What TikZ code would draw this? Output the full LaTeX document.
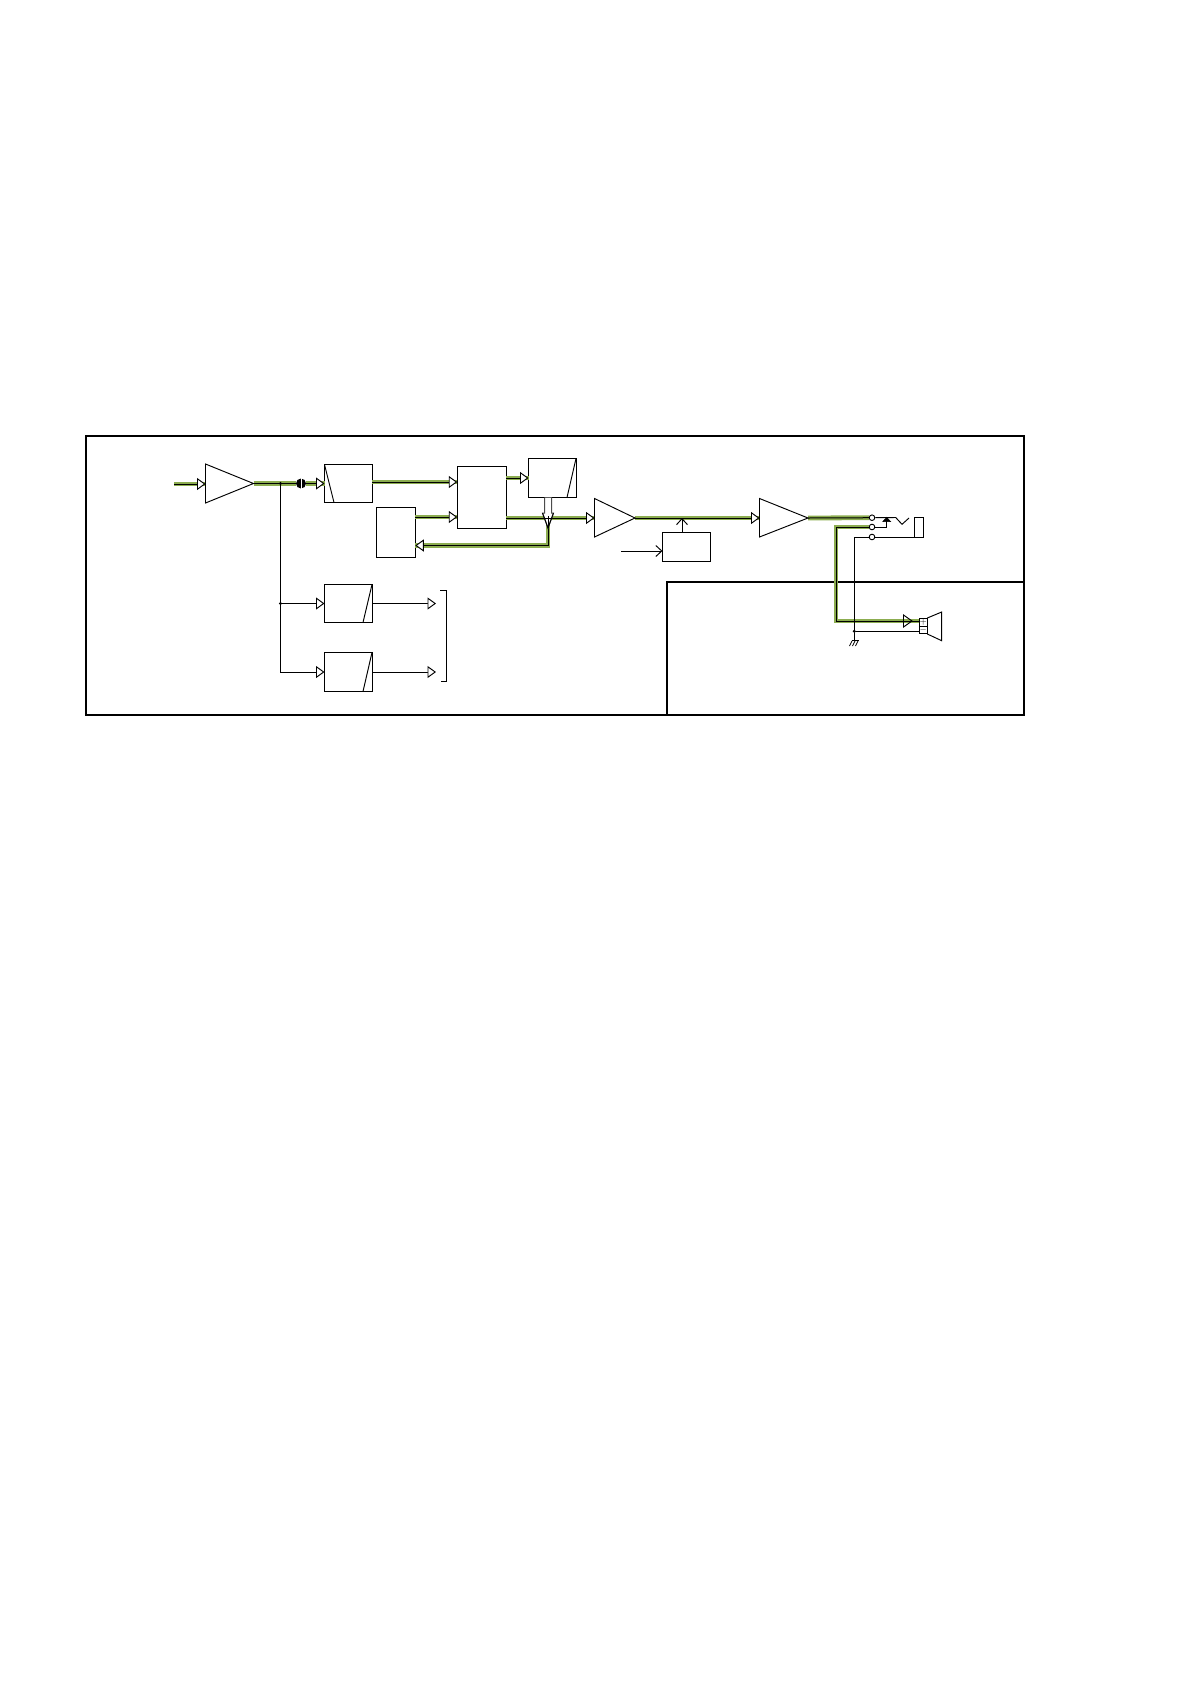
\documentclass[tikz,border=0pt]{standalone}
\usetikzlibrary{arrows.meta}
\definecolor{wiregreen}{HTML}{8CAD50}
\tikzset{
  x=1pt,y=-1pt,
  thin line/.style={line width=.95pt,draw=black},
  frameline/.style={line width=1.8pt,draw=black},
  blockbox/.style={thin line,rectangle,inner sep=0pt,outer sep=0pt,minimum width=47.5pt,minimum height=38pt},
  amp/.style={thin line,line join=miter},
  sig/.style={thin line,line join=miter},
  gback/.style={draw=wiregreen,line width=4.8pt,line join=miter},
  gfront/.style={line width=1pt,draw=black,line join=miter},
  htip/.style={-{Triangle[length=8.5pt,width=12pt,fill=white,line width=.95pt]}},
  otip/.style={-{Straight Barb[length=6pt,width=11pt,line width=.95pt]}},
  dotj/.style={circle,fill=black,inner sep=0pt,minimum size=3.4pt},
  term/.style={circle,draw=black,line width=.9pt,fill=white,inner sep=0pt,minimum size=5.6pt},
}
\newcommand{\gw}[2]{\draw[gback] #2; \draw[gfront,#1] #2;}
\begin{document}
\begin{tikzpicture}
\useasboundingbox (0,0) rectangle (1190,1684);
\fill[white] (0,0) rectangle (1190,1684);
% coordinates
\coordinate (inp) at (174,484);
\coordinate (a1w) at (205.5,484); \coordinate (a1t) at (253.5,483.5);
\coordinate (a2w) at (594.5,518); \coordinate (a2t) at (635,518);
\coordinate (a3w) at (759.5,518); \coordinate (a3t) at (808,518);
\coordinate (j1) at (280.5,483.5);
\coordinate (ctl) at (621,551);
% boxes
\node[blockbox] (b1) at (348.25,483.5) {};
\node[blockbox,minimum width=38.5pt,minimum height=50pt] (b3) at (396,532.5) {};
\node[blockbox,minimum width=49pt,minimum height=62.5pt] (mix) at (481.75,497.5) {};
\node[blockbox,minimum height=39pt] (b2) at (552.25,478) {};
\node[blockbox,minimum height=29pt] (vol) at (686.25,547) {};
\node[blockbox] (b4) at (348.25,603.5) {};
\node[blockbox,minimum height=39pt] (b5) at (348.25,672) {};
% terminals
\node[term] (t1) at (872,517.7) {};
\node[term] (t2) at (872,527) {};
\node[term] (t3) at (872,537) {};
% speaker
\node[thin line,rectangle,inner sep=0pt,minimum width=8pt,minimum height=15pt] (spk) at (923.3,626.2) {};
\coordinate (cone1) at (927.3,618); \coordinate (cone2) at (941.7,612);
\coordinate (cone3) at (941.7,640.7); \coordinate (cone4) at (927.3,634);
% frames
\draw[frameline] (86,436) rectangle (1024,715);
\draw[frameline] (667,715) |- (1024,582);
% green wires
\gw{htip}{(inp) -- (a1w)}
\gw{}{(a1t) -- (j1) -- (296,483.5)}
\gw{htip}{(306,483.5) -- (b1.west)}
\gw{htip}{(b1.east |- 0,482) -- (mix.west |- 0,482)}
\gw{htip}{(b3.east |- 0,517) -- (mix.west |- 0,517)}
\gw{htip}{(mix.east |- 0,478) -- (b2.west)}
\gw{htip}{(mix.east |- 0,518) -- (a2w)}
\gw{htip}{(548,497.5) -- (548,545.5) -- (b3.east |- 0,545.5)}
\gw{htip}{(a2t) -- (a3w)}
\gw{}{(a3t) -- (t1)}
\gw{}{(t2) -- (836,527) -- (836,621) -- (spk.west |- 0,621)}
\coordinate (sptip) at (912,621);
\draw[thin line,line join=miter] (903.5,615) -- (sptip) -- (903.5,627) -- cycle;
% dot (break) on signal
\node[circle,fill=black,inner sep=0pt,minimum size=10pt] (brk) at (301,483.5) {};
\draw[white,line width=.8pt] (brk.north) -- (brk.south);
% amps
\draw[amp,fill=white] (205.5,464) -- (a1t) -- (205.5,503) -- cycle;
\draw[amp,fill=white] (594.5,498.5) -- (a2t) -- (594.5,537) -- cycle;
\draw[amp,fill=white] (759.5,498.5) -- (a3t) -- (759.5,537) -- cycle;
% slashes
\draw[thin line] (b1.north west) -- (b1.south west -| 334,0);
\draw[thin line] (b2.north east) -- (b2.south east -| 567,0);
\draw[thin line] (b4.north east) -- (b4.south east -| 363,0);
\draw[thin line] (b5.north east) -- (b5.south east -| 363,0);
% thin signal wires
\node[dotj] (j2) at (280.5,603.5) {};
\node[dotj] (j1d) at (j1) {};
\draw[sig] (j1) -- (j2);
\draw[sig,htip] (j2) -- (b4.west);
\draw[sig,htip] (j2) -- (280.5,672) -- (b5.west |- 0,672);
\coordinate (o1) at (436,603.5); \coordinate (o2) at (436,672);
\draw[sig,htip] (b4.east) -- (o1);
\draw[sig,htip] (b5.east |- o2) -- (o2);
\draw[sig] (440,590) -- (446,590) -- (446,681) -- (441,681);
% control
\draw[sig,otip] (ctl) -- (vol.west |- ctl);
\draw[sig,otip] (vol.north -| 682,0) -- (682,518);
% hollow arrow
\draw[line width=1pt,draw=black!70,fill=white,line join=miter] (544.5,497.5) -- (544.5,513) -- (542.5,513) -- (548,528) -- (553.5,513) -- (551.5,513) -- (551.5,497.5);
\draw[line width=.95pt] (542.5,513) -- (548,528) -- (553.5,513);
\draw[line width=.8pt] (544,518) -- (552,518);
\draw[line width=1pt] (548,516) -- (548,528);
% jack
\draw[sig] (t1) -- (895.7,517.5) -- (902,524.3) -- (909,518);
\draw[sig] (t2) -- (886.7,527) -- (886.7,521);
\draw[fill=black,line width=.5pt] (882.7,521.7) -- (886.7,517.3) -- (890.7,521.7) -- cycle;
\draw[thin line] (914.3,517.3) rectangle (923.3,537);
\draw[sig] (t3) -- (923.3,537);
\draw[sig] (t3) -- (854.3,537) -- (854.3,631.3);
\node[dotj] (gnd) at (854.3,631.3) {};
\draw[sig] (gnd) -- (spk.west |- gnd);
\draw[sig] (gnd) -- (854.3,640);
\draw[line width=.8pt] (851.5,640.5) -- (859,640.5);
\draw[line width=.8pt] (852,641) -- (849.5,646) (855,641) -- (852.5,646) (858,641) -- (855.5,646);
% speaker cone
\draw[thin line,line join=miter] (cone1) -- (cone2) -- (cone3) -- (cone4);
\draw[thin line] (spk.west) -- (spk.east);
\node[font=\fontsize{9}{9}\selectfont,inner sep=0pt] (plus) at (923.3,622.3) {$+$};
\node[font=\fontsize{9}{9}\selectfont,inner sep=0pt] (minus) at (923.3,630) {$-$};
\end{tikzpicture}
\end{document}
